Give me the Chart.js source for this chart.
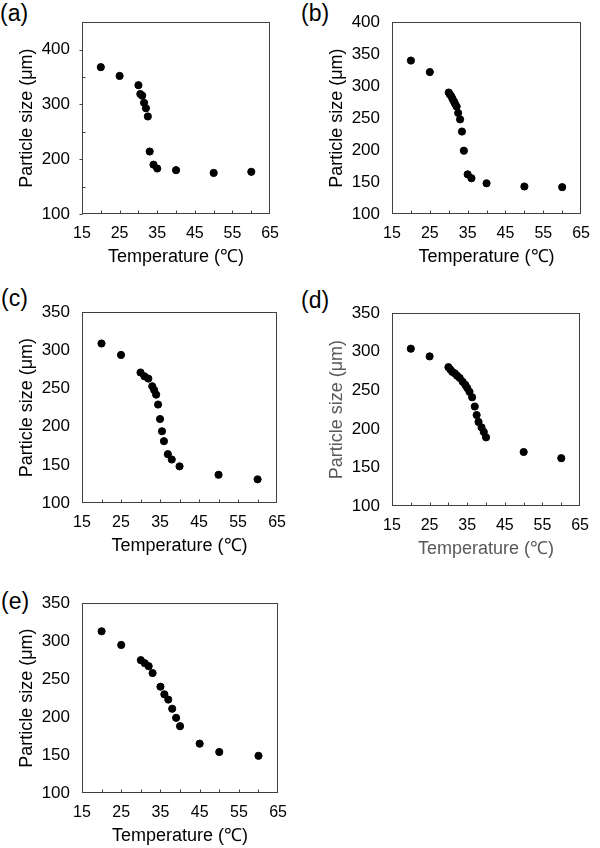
<!DOCTYPE html>
<html><head><meta charset="utf-8">
<script src="https://cdn.jsdelivr.net/npm/chart.js@4"></script>
<style>
html,body{margin:0;padding:0;background:#fff;overflow:hidden;width:600px;height:848px;position:relative}
.p{position:absolute}
.lab{position:absolute;font-family:"Liberation Sans",Arial,sans-serif;font-size:23px;line-height:23px;color:#000;white-space:nowrap}
</style></head><body>
<div class="lab" style="left:0px;top:2px">(a)</div>
<div class="lab" style="left:301px;top:2px">(b)</div>
<div class="lab" style="left:1px;top:287px">(c)</div>
<div class="lab" style="left:301px;top:289px">(d)</div>
<div class="lab" style="left:1px;top:590px">(e)</div>

<div class="p" style="left:0px;top:0px"><canvas id="ca" width="289" height="280"></canvas></div>
<div class="p" style="left:310px;top:0px"><canvas id="cb" width="290" height="280"></canvas></div>
<div class="p" style="left:0px;top:290px"><canvas id="cc" width="296" height="279"></canvas></div>
<div class="p" style="left:310px;top:291px"><canvas id="cd" width="289" height="281"></canvas></div>
<div class="p" style="left:0px;top:581px"><canvas id="ce" width="297" height="267"></canvas></div>

<script>
// ---------- data ----------
const xTickValues = [15, 25, 35, 45, 55, 65];
const xMarkValues = [20, 25, 30, 35, 40, 45, 50, 55, 60];

const tempA = [20, 25, 30, 30.5, 31, 31.5, 32, 32.5, 33, 34, 35, 40, 50, 60];
const sizeA = [368, 352, 335, 319, 316, 303, 293, 278, 214, 190, 183, 180, 175, 177];
const yTicksA = [100, 200, 300, 400];
const yMinorA = [150, 250, 350];

const tempB = [20, 25, 30, 30.3, 30.7, 31, 31.4, 31.7, 32.1, 32.5, 33, 33.5, 34, 35, 36, 40, 50, 60];
const sizeB = [340, 322, 290, 287, 284, 280, 276, 272, 268, 258, 248, 229, 199, 162, 156, 148, 143, 142];
const yTicksB = [100, 150, 200, 250, 300, 350, 400];

const tempC = [20, 25, 30, 31, 32, 33, 33.5, 34, 34.5, 35, 35.5, 36, 37, 38, 40, 50, 60];
const sizeC = [309, 294, 271, 266, 263, 253, 248, 242, 229, 210, 194, 181, 164, 157, 148, 137, 131];
const yTicksC = [100, 150, 200, 250, 300, 350];

const tempD = [20, 25, 30, 30.5, 31, 31.7, 32.3, 33, 33.8, 34.5, 35, 35.6, 36.3, 37, 37.5, 38, 38.8, 39.4, 40, 50, 60];
const sizeD = [304, 294, 280, 277, 274, 272, 269, 266, 261, 257, 253, 248, 241, 229, 218, 209, 202, 196, 189, 170, 162];
const yTicksD = [100, 150, 200, 250, 300, 350];

const tempE = [20, 25, 30, 31, 32, 33, 35, 36, 37, 38, 39, 40, 45, 50, 60];
const sizeE = [313, 295, 275, 271, 267, 258, 240, 230, 223, 211, 199, 188, 165, 154, 149];
const yTicksE = [100, 150, 200, 250, 300, 350];

// ---------- drawing ----------
Chart.defaults.font.family = '"Liberation Sans", Arial, sans-serif';
Chart.defaults.color = '#000';

const framePlugin = {
  id: 'frame',
  beforeDatasetsDraw(chart, args, opts) {
    const {ctx, chartArea: a, scales: {x, y}} = chart;
    ctx.save();
    ctx.strokeStyle = '#404040';
    ctx.lineWidth = 1;
    const l = Math.round(a.left) + 0.5, t = Math.round(a.top) + 0.5;
    const r = Math.round(a.right) - 0.5, b = Math.round(a.bottom) - 0.5;
    ctx.strokeRect(l, t, r - l, b - t);
    ctx.beginPath();
    xMarkValues.forEach(v => {
      const px = Math.round(x.getPixelForValue(v)) + 0.5;
      ctx.moveTo(px, b); ctx.lineTo(px, b - 3);
    });
    (opts.yMinor || []).forEach(v => {
      const py = Math.round(y.getPixelForValue(v)) + 0.5;
      ctx.moveTo(l, py); ctx.lineTo(l + 3, py);
    });
    (opts.yOuter || []).forEach(v => {
      const py = Math.round(y.getPixelForValue(v)) + 0.5;
      ctx.moveTo(l, py); ctx.lineTo(l - 3, py);
    });
    ctx.stroke();
    ctx.restore();
  }
};

function makeChart(id, temps, sizes, yMin, yMax, yTicks, opts) {
  const xh = opts.xh || 66;
  const titleColor = opts.titleColor || '#000';
  new Chart(document.getElementById(id), {
    type: 'scatter',
    data: {
      datasets: [{
        data: temps.map((t, i) => ({x: t, y: sizes[i]})),
        backgroundColor: '#000',
        borderColor: '#000',
        borderWidth: 1,
        pointRadius: 3.6,
        pointHoverRadius: 3.6
      }]
    },
    plugins: [framePlugin],
    options: {
      responsive: false,
      animation: false,
      events: [],
      layout: {padding: {left: 0, top: 8, right: 10, bottom: 0}},
      plugins: {
        legend: {display: false},
        tooltip: {enabled: false},
        frame: {yMinor: opts.yMinor, yOuter: opts.yOuter}
      },
      scales: {
        x: {
          type: 'linear', min: 15, max: 65,
          afterBuildTicks: s => { s.ticks = xTickValues.map(v => ({value: v})); },
          afterFit: s => { s.height = xh; },
          grid: {display: false, drawTicks: false},
          border: {display: false},
          ticks: {padding: 10, font: {size: 16}, color: '#000', maxRotation: 0, autoSkip: false},
          title: {display: true, text: 'Temperature (℃)', font: {size: 18}, color: titleColor,
                  padding: {top: 0, bottom: xh - 43 - 10.8}}
        },
        y: {
          type: 'linear', min: yMin, max: yMax,
          afterBuildTicks: s => { s.ticks = yTicks.map(v => ({value: v})); },
          afterFit: s => { s.width = 82; },
          grid: {display: false, drawTicks: false},
          border: {display: false},
          ticks: {padding: 12, font: {size: 17}, color: '#000', autoSkip: false},
          title: {display: true, text: 'Particle size (μm)', font: {size: 18}, color: titleColor,
                  padding: {top: 16, bottom: 0}}
        }
      }
    }
  });
}

makeChart('ca', tempA, sizeA, 100, 450, yTicksA, {yMinor: yMinorA, yOuter: yTicksA});
makeChart('cb', tempB, sizeB, 100, 400, yTicksB, {});
makeChart('cc', tempC, sizeC, 100, 350, yTicksC, {});
makeChart('cd', tempD, sizeD, 100, 350, yTicksD, {titleColor: '#595959'});
makeChart('ce', tempE, sizeE, 100, 350, yTicksE, {xh: 55});
</script>
</body></html>
